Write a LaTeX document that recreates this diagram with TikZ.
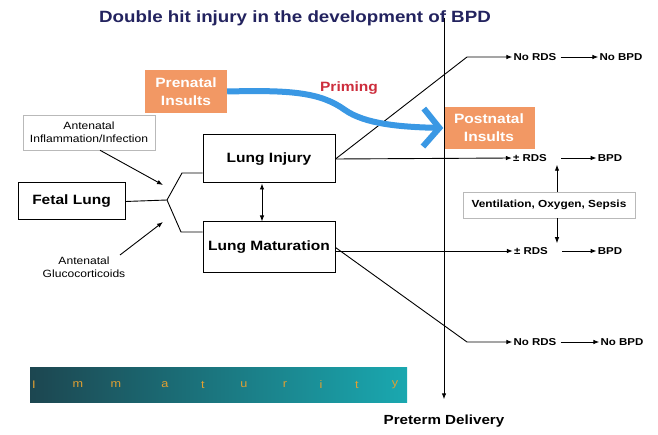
\documentclass[tikz,border=0pt]{standalone}
\usepackage{fontspec}
\setmainfont[FakeStretch=1.15]{Liberation Sans}
\usetikzlibrary{arrows.meta}
\definecolor{orng}{RGB}{242,152,100}
\definecolor{bluearr}{RGB}{58,152,228}
\definecolor{primred}{RGB}{205,45,60}
\definecolor{titleblue}{RGB}{35,35,95}
\definecolor{imdark}{RGB}{28,70,80}
\definecolor{imlight}{RGB}{26,168,176}
\definecolor{imtext}{RGB}{225,160,50}
\begin{document}
\begin{tikzpicture}[x=1pt,y=-1pt,
  box/.style={draw, line width=1pt, inner sep=0pt, font=\bfseries\fontsize{13.5}{15}\selectfont},
  lbl/.style={inner sep=1pt, font=\bfseries\fontsize{10}{12}\selectfont},
  small/.style={inner sep=1pt, align=center, font=\fontsize{10.5}{13}\selectfont},
  ornbox/.style={fill=orng, text=white, align=center, inner sep=0pt, font=\bfseries\fontsize{13.5}{18}\selectfont},
  arr/.style={-{Latex[length=6pt,width=4.5pt]}, line width=0.9pt},
  darr/.style={{Latex[length=6pt,width=4.5pt]}-{Latex[length=6pt,width=4.5pt]}, line width=0.9pt},
  ln/.style={line width=0.9pt},
  imm/.style={text=imtext, font=\fontsize{11}{13}\selectfont}
]
\useasboundingbox[fill=white] (0,0) rectangle (658,435);

% title
\node[text=titleblue, font=\bfseries\fontsize{16.3}{18}\selectfont] (title) at (295,18) {Double hit injury in the development of BPD};

% left part
\node[box, minimum width=107pt, minimum height=37pt] (fetal) at (71.5,201.5) {Fetal Lung};
\node[box, minimum width=132pt, minimum height=48pt] (inj) at (269,159) {Lung Injury};
\node[box, minimum width=132pt, minimum height=51pt] (mat) at (269,247.5) {Lung Maturation};
\node[small, draw=gray!55, line width=0.5pt, minimum width=132pt, minimum height=35pt] (inf) at (89,132.5) {Antenatal\\Inflammation/Infection};
\node[small] (glu) at (84,267) {Antenatal\\Glucocorticoids};

\node[ornbox, minimum width=82pt, minimum height=43pt] (pre) at (186,91.5) {Prenatal\\Insults};
\node[ornbox, minimum width=91pt, minimum height=42pt] (post) at (489,128) {Postnatal\\Insults};
\node[text=primred, font=\bfseries\fontsize{13.5}{15}\selectfont] (prim) at (349,88) {Priming};

\coordinate (fk) at (167,200);
\coordinate (fu) at (182,173);
\coordinate (fd) at (181,232);
\draw[ln] (fetal.east) -- (fk) -- (fu) -- (fu -| inj.west);
\draw[ln] (fk) -- (fd) -- (fd -| mat.west);

\coordinate (fi) at (163,185);
\coordinate (fg) at (163,222);
\draw[arr] ([xshift=11pt]inf.south) -- (fi);
\draw[arr] (120,255) -- (fg);
\draw[darr] ([xshift=-7pt]inj.south) -- ([xshift=-7pt]mat.north);

% right part
\node[lbl] (nr1) at (535,57) {No RDS};
\node[lbl] (nb1) at (621,57) {No BPD};
\node[lbl] (r2) at (530,158) {± RDS};
\node[lbl] (b2) at (610,158) {BPD};
\node[lbl] (r3) at (531,251) {± RDS};
\node[lbl] (b3) at (610,251) {BPD};
\node[lbl] (nr4) at (535,342) {No RDS};
\node[lbl] (nb4) at (622,342) {No BPD};
\node[lbl, draw=gray!55, line width=0.5pt, font=\bfseries\fontsize{10.3}{12}\selectfont, minimum width=172pt, minimum height=26pt] (vent) at (549,205) {Ventilation, Oxygen, Sepsis};

\coordinate (k1) at (467,57);
\coordinate (k4) at (467,342);
\draw[arr] (inj.east) -- (k1) -- (nr1.west);
\draw[arr] (inj.east) -- (r2.west);
\draw[arr] (mat.east |- r3.west) -- (r3.west);
\draw[arr] (mat.east) -- (k4) -- (nr4.west);
\draw[arr, shorten <=3pt] (nr1.east) -- (nb1.west);
\draw[arr, shorten <=13pt] (r2.east) -- (b2.west);
\draw[arr, shorten <=13pt] (r3.east) -- (b3.west);
\draw[arr, shorten <=3pt] (nr4.east) -- (nb4.west);
\draw[arr] ([xshift=8pt]vent.north) -- ++(0,-27);
\draw[arr] ([xshift=8pt]vent.south) -- ++(0,25);

% blue priming arrow
\draw[bluearr, line width=6pt, -{Straight Barb[length=16pt,width=38pt]}]
  (pre.east) .. controls (290,90) and (320,92) .. (345,110)
  .. controls (365,124) and (400,127) .. (post.west);

% preterm delivery
\node[font=\bfseries\fontsize{13.2}{15}\selectfont] (pd) at (444,421) {Preterm Delivery};
\coordinate (vt) at (444,18);
\draw[arr, shorten >=12pt] (vt) -- (pd.north);

% immaturity bar
\shade[left color=imdark, right color=imlight] (30,367) rectangle (407,402);
\node[imm] (i1) at (34,385) {I};
\node[imm] (i2) at (78,385) {m};
\node[imm] (i3) at (116,385) {m};
\node[imm] (i4) at (165,385) {a};
\node[imm] (i5) at (203,385) {t};
\node[imm] (i6) at (244,385) {u};
\node[imm] (i7) at (285,385) {r};
\node[imm] (i8) at (321,385) {i};
\node[imm] (i9) at (357,385) {t};
\node[imm] (i10) at (395,385) {y};
\end{tikzpicture}
\end{document}
